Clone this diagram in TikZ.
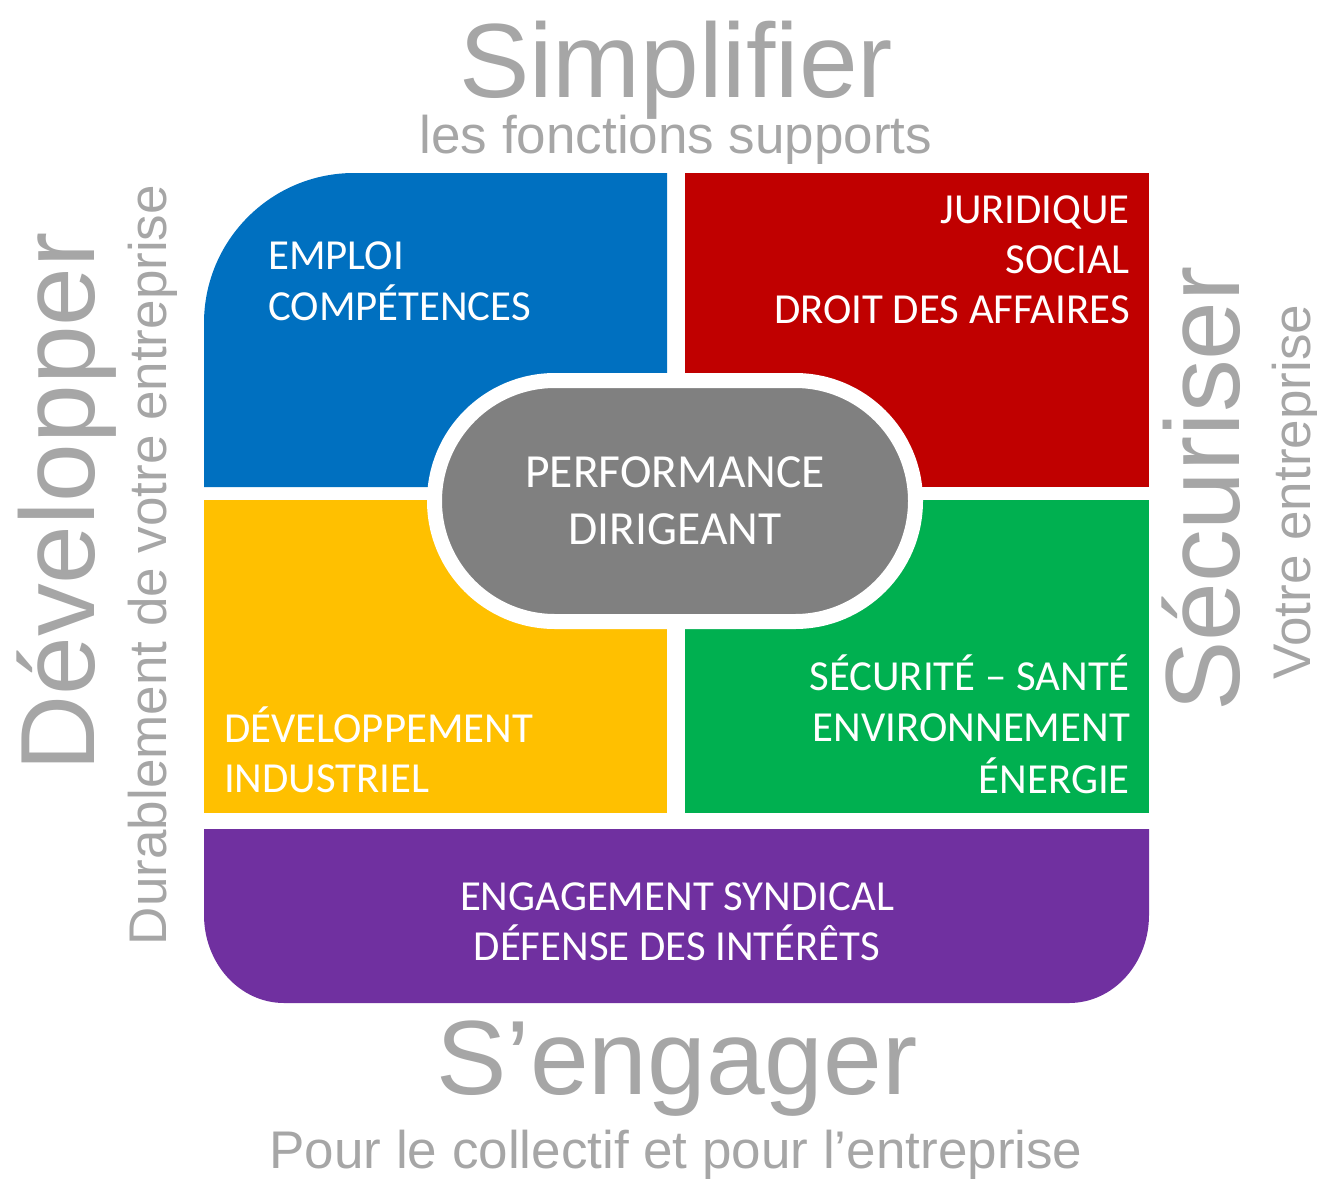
\documentclass[tikz,border=0pt]{standalone}
\usepackage{fontspec}
\setmainfont{Liberation Sans}
\newfontfamily\boxfont{Carlito}
\usetikzlibrary{shapes.misc}
\definecolor{cblue}{HTML}{0070C0}
\definecolor{cred}{HTML}{C00000}
\definecolor{cyellow}{HTML}{FFC000}
\definecolor{cgreen}{HTML}{00B050}
\definecolor{cpurple}{HTML}{7030A0}
\definecolor{cgray}{HTML}{808080}
\definecolor{tgray}{HTML}{A6A6A6}
\begin{document}
\begin{tikzpicture}[x=1pt,y=-1pt,
  boxtxt/.style={font=\boxfont\fontsize{42.8}{50}\selectfont, text=white, inner sep=0pt},
  bigtxt/.style={font=\fontsize{105.5}{120}\selectfont, text=tgray, inner sep=0pt},
  subtxt/.style={font=\fontsize{53}{60}\selectfont, text=tgray, inner sep=0pt},
  pill/.style={rounded rectangle, fill=cgray, draw=white, line width=15pt,
    minimum width=481pt, minimum height=241pt, text=white, align=center,
    font=\boxfont\fontsize{47.5}{57}\selectfont, inner sep=0pt}]
\useasboundingbox (0,0) rectangle (1317,1178);
% quadrants
\fill[cblue] (204,487) -- (204,323) .. controls (204,240.2) and (271.2,173) .. (354,173) -- (667,173) -- (667,487) -- cycle;
\fill[cred] (685,173) rectangle (1149,487);
\fill[cyellow] (204,500) rectangle (667,813);
\fill[cgreen] (685,500) rectangle (1149,813);
\fill[cpurple] (204,829) -- (1149,829) -- (1149,915) .. controls (1149,963.6) and (1113.2,1003) .. (1069,1003) -- (284,1003) .. controls (239.8,1003) and (204,963.6) .. (204,915) -- cycle;
% centre
\node[pill] (perf) at (675,501) {PERFORMANCE\\DIRIGEANT};
% box texts
\node[boxtxt, anchor=base west] (emp1) at (268,269) {EMPLOI};
\node[boxtxt, anchor=base west] (emp2) at (268,320) {COMPÉTENCES};
\node[boxtxt, anchor=base east] (jur1) at (1130,223) {JURIDIQUE};
\node[boxtxt, anchor=base east] (jur2) at (1130,273) {SOCIAL};
\node[boxtxt, anchor=base east] (jur3) at (1130,323) {DROIT DES AFFAIRES};
\node[boxtxt, anchor=base east] (sec1) at (1130,690) {SÉCURITÉ – SANTÉ};
\node[boxtxt, anchor=base east] (sec2) at (1130,741) {ENVIRONNEMENT};
\node[boxtxt, anchor=base east] (sec3) at (1130,793) {ÉNERGIE};
\node[boxtxt, anchor=base west] (dev1) at (224,742) {DÉVELOPPEMENT};
\node[boxtxt, anchor=base west] (dev2) at (224,792) {INDUSTRIEL};
\node[boxtxt, anchor=base] (eng1) at (677,910) {ENGAGEMENT SYNDICAL};
\node[boxtxt, anchor=base] (eng2) at (677,960) {DÉFENSE DES INTÉRÊTS};
% outer texts
\node[bigtxt, anchor=base] (simp) at (676,97) {Simplifier};
\node[subtxt, anchor=base] (simpsub) at (676,153) {les fonctions supports};
\node[bigtxt, anchor=base] (seng) at (677,1094) {S’engager};
\node[subtxt, anchor=base] (sengsub) at (676,1168) {Pour le collectif et pour l’entreprise};
\node[bigtxt, anchor=base, rotate=90] (devl) at (94,502) {Développer};
\node[subtxt, anchor=base, rotate=90] (devlsub) at (166,565) {Durablement de votre entreprise};
\node[bigtxt, anchor=base, rotate=90] (secu) at (1239,489) {Sécuriser};
\node[subtxt, anchor=base, rotate=90] (secusub) at (1310,492) {Votre entreprise};
\end{tikzpicture}
\end{document}
